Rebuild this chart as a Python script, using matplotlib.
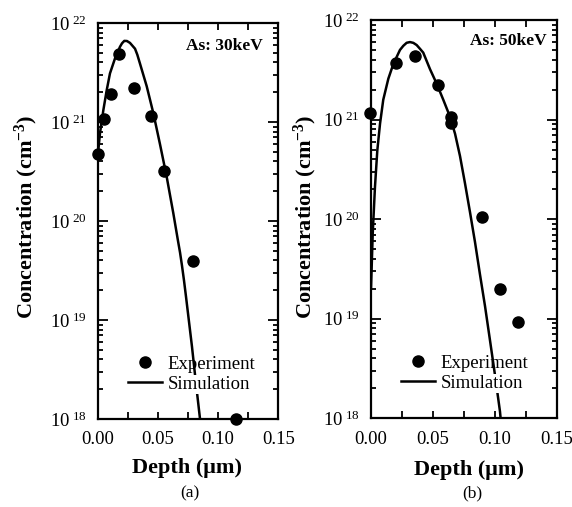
import math
import matplotlib
matplotlib.use('Agg')
import matplotlib.pyplot as plt
from matplotlib.ticker import FixedLocator, FuncFormatter, LogLocator, NullFormatter
from matplotlib.lines import Line2D

plt.rcParams['font.family'] = ['Liberation Serif', 'DejaVu Serif']
plt.rcParams['mathtext.fontset'] = 'custom'
plt.rcParams['mathtext.rm'] = 'Liberation Serif'
plt.rcParams['mathtext.it'] = 'Liberation Serif:italic'
plt.rcParams['mathtext.bf'] = 'Liberation Serif:bold'

# (a) As: 30keV
exp_a_x = [0.000, 0.005, 0.011, 0.018, 0.030, 0.044, 0.055, 0.079, 0.115]
exp_a_y = [4.8e20, 1.07e21, 1.9e21, 4.9e21, 2.2e21, 1.15e21, 3.2e20, 3.9e19, 1.0e18]
sim_a_x = [0.000, 0.0019, 0.0047, 0.0075, 0.0102, 0.0144, 0.0185, 0.0202, 0.0221,
           0.0243, 0.0268, 0.031, 0.0329, 0.0351, 0.0407, 0.0462, 0.0517, 0.0573,
           0.0628, 0.0667, 0.0684, 0.0700, 0.0717, 0.0733, 0.0750, 0.0783, 0.0816,
           0.085, 0.0865]
sim_a_y = [4.5e20, 7.7e20, 1.32e21, 2.1e21, 3.1e21, 4.4e21, 5.75e21, 6.24e21, 6.6e21,
           6.58e21, 6.3e21, 5.5e21, 4.79e21, 3.9e21, 2.3e21, 1.23e21, 6.0e20, 2.8e20,
           1.2e20, 6.3e19, 4.8e19, 3.55e19, 2.5e19, 1.74e19, 1.17e19, 5.4e18, 2.3e18,
           1.0e18, 7e17]

# (b) As: 50keV
exp_b_x = [-0.001, 0.020, 0.0353, 0.054, 0.0643, 0.065, 0.090, 0.1045, 0.119]
exp_b_y = [1.17e21, 3.7e21, 4.3e21, 2.2e21, 1.05e21, 0.93e21, 1.04e20, 2.0e19, 9.3e18]
sim_b_x = [0.000, 0.0014, 0.0032, 0.0051, 0.0073, 0.0099, 0.014, 0.018, 0.0234,
           0.0261, 0.0288, 0.0315, 0.0342, 0.0369, 0.0396, 0.0422, 0.0477, 0.053,
           0.0584, 0.0638, 0.0679, 0.0719, 0.0759, 0.080, 0.0840, 0.0880, 0.0921,
           0.0961, 0.1002, 0.1042, 0.1058]
sim_b_y = [2e19, 7.2e19, 2.1e20, 4.9e20, 9.1e20, 1.58e21, 2.57e21, 3.6e21, 5.0e21,
           5.5e21, 5.9e21, 6.0e21, 5.89e21, 5.6e21, 5.13e21, 4.7e21, 3.2e21, 2.3e21,
           1.58e21, 1.07e21, 7.2e20, 4.3e20, 2.3e20, 1.17e20, 5.9e19, 2.8e19, 1.34e19,
           6.1e18, 2.7e18, 1.17e18, 7.2e17]

xtick_pos = [0.0, 0.025, 0.05, 0.075, 0.10, 0.125, 0.15]
xtick_lab = ['0.00', '', '0.05', '', '0.10', '', '0.15']

fig = plt.figure(figsize=(5.72, 5.07), dpi=100)


def setup(ax):
    ax.set_yscale('log')
    ax.set_xlim(0, 0.15)
    ax.set_ylim(1e18, 1e22)
    ax.xaxis.set_major_locator(FixedLocator(xtick_pos))
    ax.set_xticklabels(xtick_lab)
    ax.yaxis.set_major_locator(LogLocator(base=10, numticks=10))
    ax.yaxis.set_minor_locator(LogLocator(base=10, subs=range(2, 10), numticks=20))
    ax.yaxis.set_minor_formatter(NullFormatter())
    ax.yaxis.set_major_formatter(FuncFormatter(
        lambda v, p: r'$10^{\ %d}$' % round(math.log10(v))))
    ax.tick_params(which='both', direction='in', top=True, right=True, width=1.3)
    ax.tick_params(axis='x', which='major', length=5, pad=9, labelsize=13.5)
    ax.tick_params(axis='y', which='major', length=7, pad=8, labelsize=13.5)
    ax.tick_params(axis='y', which='minor', length=3.5)
    for s in ax.spines.values():
        s.set_linewidth(1.6)


def panel(ax, ex, ey, sx, sy, title, tx, ty, lx, ly):
    setup(ax)
    ax.plot(sx, sy, color='black', lw=1.8)
    ax.plot(ex, ey, 'o', color='black', ms=8, clip_on=False, zorder=5)
    ax.text(tx, ty, title, transform=ax.transAxes, ha='right', va='top',
            fontsize=12.5, fontweight='bold')
    handles = [Line2D([], [], ls='none', marker='o', color='black', ms=8),
               Line2D([], [], color='black', lw=1.8)]
    leg = ax.legend(handles, ['Experiment', 'Simulation'], loc='lower left',
                    bbox_to_anchor=(lx, ly), frameon=False, fontsize=13.5,
                    handlelength=1.8, handletextpad=0.3, labelspacing=0.15,
                    borderpad=0, borderaxespad=0)
    leg.get_texts()[1].set_bbox(dict(facecolor='white', edgecolor='none', pad=1))


ax1 = fig.add_axes([0.1708, 0.1736, 0.3157, 0.781])
panel(ax1, exp_a_x, exp_a_y, sim_a_x, sim_a_y, 'As: 30keV', 0.915, 0.962, 0.168, 0.066)

ax2 = fig.add_axes([0.6486, 0.175, 0.3246, 0.7856])
panel(ax2, exp_b_x, exp_b_y, sim_b_x, sim_b_y, 'As: 50keV', 0.948, 0.967, 0.162, 0.066)

ylab = r'Concentration (cm$^{\mathbf{-3}}$)'
fig.text(26 / 572, 1 - 217 / 507, ylab, rotation=90, ha='center', va='center',
         fontsize=16, fontweight='bold')
fig.text(305 / 572, 1 - 217 / 507, ylab, rotation=90, ha='center', va='center',
         fontsize=16, fontweight='bold')
fig.text(187 / 572, 1 - 468 / 507, 'Depth (μm)', ha='center', va='center',
         fontsize=16, fontweight='bold')
fig.text(469 / 572, 1 - 470 / 507, 'Depth (μm)', ha='center', va='center',
         fontsize=16, fontweight='bold')
fig.text(190 / 572, 1 - 493 / 507, '(a)', ha='center', va='center', fontsize=12.5)
fig.text(472 / 572, 1 - 493 / 507, '(b)', ha='center', va='center', fontsize=12.5)

fig.savefig('out.png', dpi=100)
